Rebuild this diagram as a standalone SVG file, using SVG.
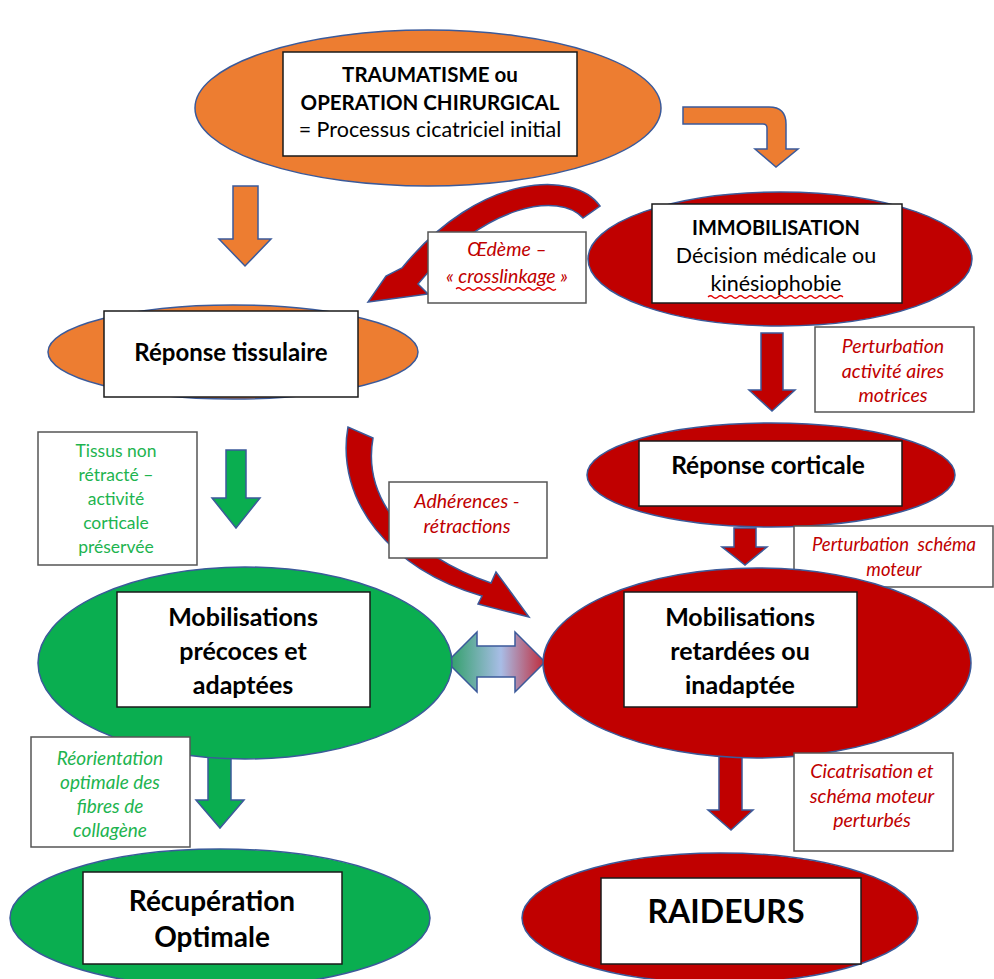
<svg xmlns="http://www.w3.org/2000/svg" width="994" height="979" viewBox="0 0 994 979">
<defs>
<style>
.oe{fill:#ED7D31;stroke:#3B5A9A;stroke-width:1.5}
.re{fill:#C00000;stroke:#3B5A9A;stroke-width:1.5}
.ge{fill:#0AAE50;stroke:#3B5A9A;stroke-width:1.5}
.box{fill:#fff;stroke:#1a1a1a;stroke-width:1.5}
.lbl{fill:#fff;stroke:#555;stroke-width:1.5}
.oa{fill:#ED7D31;stroke:#3B5A9A;stroke-width:1.5}
.ra{fill:#C00000;stroke:#3B5A9A;stroke-width:1.5}
.ga{fill:#0AAE50;stroke:#3B5A9A;stroke-width:1.5}
text{font-family:Lato,"Open Sans","Liberation Sans",sans-serif;text-anchor:middle}
.b{font-weight:bold;fill:#000}
.n{fill:#000}
.ri{font-style:italic;fill:#C00000;font-size:19.5px}
.gr{fill:#1DB44F;font-size:17.5px}
.gi{font-style:italic;fill:#1DB44F;font-size:19px}
.wave{fill:none;stroke:#E00000;stroke-width:1.2}
</style>
<linearGradient id="dbl" gradientUnits="userSpaceOnUse" x1="447" y1="662" x2="545" y2="662">
<stop offset="0" stop-color="#2A9E62"/>
<stop offset="0.55" stop-color="#A8BDE6"/>
<stop offset="1" stop-color="#C02A3A"/>
</linearGradient>
</defs>
<rect width="994" height="979" fill="#fff"/>

<g id="connectors">
<path class="oa" d="M683,107 L769,107 Q786,107 786,124 L786,149 L798,149 L776,167 L755,149 L767,149 L767,128 Q767,124 763,124 L683,124 Z"/>
<path class="oa" d="M233,186 L258,186 L258,239 L271,239 L245,266 L219,239 L233,239 Z"/>
<path class="ra" d="M600,206 C575,170 480,172 402,268 L386,276 L368,302 L428,294 L418,284 C485,203 560,192 583,218 Z"/>
<path class="ra" d="M761,333 L783,333 L783,390 L795,390 L772,411 L749,390 L761,390 Z"/>
<path class="ra" d="M734,528 L756,528 L756,547 L767,547 L745,565 L722,547 L734,547 Z"/>
<path class="ra" d="M348,427 C335,500 390,570 482,596 L478,604 L529,617 L496,572 L491,583 C410,555 362,500 373,438 Z"/>
<path class="ga" d="M226,450 L246,450 L246,498 L260,498 L236,528 L212,498 L226,498 Z"/>
<path d="M447,662 L477,632 L477,646 L515,646 L515,632 L545,662 L515,692 L515,677 L477,677 L477,692 Z" fill="url(#dbl)" stroke="#3B5A9A" stroke-width="1.5"/>
<path class="ga" d="M208,751 L231,751 L231,800 L244,800 L220,828 L196,800 L208,800 Z"/>
<path class="ra" d="M719,752 L742,752 L742,810 L753,810 L731,830 L708,810 L719,810 Z"/>
</g>

<g id="n-trauma">
<ellipse class="oe" cx="428" cy="108" rx="233" ry="78"/>
<rect class="box" x="283" y="52" width="294" height="104"/>
<text class="b" x="430" y="82" font-size="20.5">TRAUMATISME ou</text>
<text class="b" x="430" y="110" font-size="20.5">OPERATION CHIRURGICAL</text>
<text class="n" x="430" y="137" font-size="21.5">= Processus cicatriciel initial</text>
</g>

<g id="n-immob">
<ellipse class="re" cx="780" cy="259" rx="192" ry="67"/>
<rect class="box" x="652" y="204" width="250" height="99"/>
<text class="b" x="776" y="235" font-size="20">IMMOBILISATION</text>
<text class="n" x="776" y="263" font-size="21.5">Décision médicale ou</text>
<text class="n" x="776" y="291" font-size="21.5">kinésiophobie</text>
<path class="wave" d="M708,297 q2.5,-2.5 5,0 t5,0 t5,0 t5,0 t5,0 t5,0 t5,0 t5,0 t5,0 t5,0 t5,0 t5,0 t5,0 t5,0 t5,0 t5,0 t5,0 t5,0 t5,0 t5,0 t5,0 t5,0 t5,0 t5,0 t5,0 t5,0 t5,0"/>
</g>

<g id="l-oedeme">
<rect class="lbl" x="428" y="232" width="158" height="71"/>
<text class="ri" x="507" y="256">Œdème –</text>
<text class="ri" x="507" y="283">« crosslinkage »</text>
<path class="wave" d="M456,289 q2.5,-2.5 5,0 t5,0 t5,0 t5,0 t5,0 t5,0 t5,0 t5,0 t5,0 t5,0 t5,0 t5,0 t5,0 t5,0 t5,0 t5,0 t5,0 t5,0 t5,0 t5,0"/>
</g>

<g id="n-tissu">
<ellipse class="oe" cx="233" cy="352" rx="185" ry="47"/>
<rect class="box" x="104" y="311" width="254" height="86"/>
<text class="b" x="231" y="361" font-size="24">Réponse tissulaire</text>
</g>

<g id="l-perturb1">
<rect class="lbl" x="815" y="327" width="159" height="85"/>
<text class="ri" x="893" y="353">Perturbation</text>
<text class="ri" x="893" y="378">activité aires</text>
<text class="ri" x="893" y="402">motrices</text>
</g>

<g id="n-cortic">
<ellipse class="re" cx="771" cy="475" rx="184" ry="52"/>
<rect class="box" x="639" y="441" width="263" height="65"/>
<text class="b" x="768" y="474" font-size="24.5">Réponse corticale</text>
</g>

<g id="l-tissus">
<rect class="lbl" x="38" y="432" width="159" height="133"/>
<text class="gr" x="116" y="457">Tissus non</text>
<text class="gr" x="116" y="481">rétracté –</text>
<text class="gr" x="116" y="505">activité</text>
<text class="gr" x="116" y="529">corticale</text>
<text class="gr" x="116" y="553">préservée</text>
</g>

<g id="l-adher">
<rect class="lbl" x="389" y="482" width="158" height="76"/>
<text class="ri" x="467" y="508">Adhérences -</text>
<text class="ri" x="467" y="533">rétractions</text>
</g>

<g id="l-perturb2">
<rect class="lbl" x="794" y="526" width="199" height="61"/>
<text class="ri" x="894" y="551" style="font-size:18.5px" xml:space="preserve">Perturbation  schéma</text>
<text class="ri" x="894" y="576" style="font-size:18.5px">moteur</text>
</g>

<g id="n-mobp">
<ellipse class="ge" cx="245" cy="663" rx="207" ry="96"/>
<rect class="box" x="117" y="592" width="253" height="115"/>
<text class="b" x="243" y="626" font-size="25">Mobilisations</text>
<text class="b" x="243" y="660" font-size="25">précoces et</text>
<text class="b" x="243" y="694" font-size="25">adaptées</text>
</g>

<g id="n-mobr">
<ellipse class="re" cx="757" cy="663" rx="214" ry="95"/>
<rect class="box" x="624" y="592" width="233" height="115"/>
<text class="b" x="740" y="626" font-size="25">Mobilisations</text>
<text class="b" x="740" y="660" font-size="25">retardées ou</text>
<text class="b" x="740" y="694" font-size="25">inadaptée</text>
</g>

<g id="l-reorient">
<rect class="lbl" x="31" y="737" width="159" height="110"/>
<text class="gi" x="110" y="765">Réorientation</text>
<text class="gi" x="110" y="789">optimale des</text>
<text class="gi" x="110" y="813">fibres de</text>
<text class="gi" x="110" y="837">collagène</text>
</g>

<g id="l-cicat">
<rect class="lbl" x="794" y="753" width="159" height="98"/>
<text class="ri" x="872" y="778">Cicatrisation et</text>
<text class="ri" x="872" y="803">schéma moteur</text>
<text class="ri" x="872" y="827">perturbés</text>
</g>

<g id="n-recup">
<ellipse class="ge" cx="220" cy="918" rx="210" ry="69"/>
<rect class="box" x="83" y="872" width="259" height="92"/>
<text class="b" x="212" y="911" font-size="28">Récupération</text>
<text class="b" x="212" y="947" font-size="28">Optimale</text>
</g>

<g id="n-raid">
<ellipse class="re" cx="720" cy="918" rx="198" ry="65"/>
<rect class="box" x="601" y="878" width="260" height="86"/>
<text class="b" x="726" y="923" font-size="32">RAIDEURS</text>
</g>
</svg>
